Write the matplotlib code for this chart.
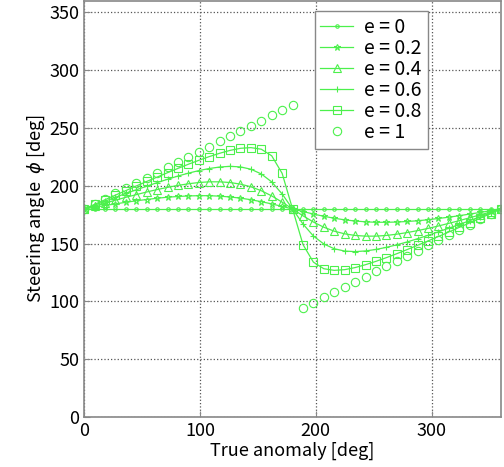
import numpy as np
import matplotlib.pyplot as plt

# true anomaly samples [deg], every 9 deg
nu = list(range(0, 361, 9))

# steering angle [deg], first half 0..180
# (second half mirrors about 180 deg)
half_02 = [180, 181.5, 183.0, 184.4, 185.8, 187.1, 188.2, 189.3, 190.2, 190.8, 191.3,
           191.5, 191.5, 191.1, 190.4, 189.4, 188.0, 186.3, 184.4, 182.2, 180]
half_04 = [180, 182.6, 185.1, 187.6, 190.1, 192.4, 194.7, 196.8, 198.7, 200.4, 201.8,
           202.9, 203.5, 203.5, 202.9, 201.5, 199.2, 195.8, 191.3, 185.9, 180]
half_06 = [180, 183.4, 186.7, 190.1, 193.4, 196.6, 199.7, 202.8, 205.7, 208.5, 211.0,
           213.2, 215.0, 216.3, 216.9, 216.4, 214.4, 210.3, 203.4, 193.0, 180]
half_08 = [180, 184.0, 188.0, 192.0, 195.9, 199.9, 203.8, 207.6, 211.4, 215.1, 218.7,
           222.1, 225.3, 228.2, 230.7, 232.5, 233.1, 231.7, 226.0, 210.8, 180]
e1_first = [180, 184.5, 189, 193.5, 198, 202.5, 207, 211.5, 216, 220.5, 225,
            229.5, 234, 238.5, 243, 247.5, 252, 256.5, 261, 265.5, 270]
e1_second = [94.5, 99, 103.5, 108, 112.5, 117, 121.5, 126, 130.5, 135,
             139.5, 144, 148.5, 153, 157.5, 162, 166.5, 171, 175.5, 180]


def mirror(h):
    return h + [360 - v for v in h[-2::-1]]


phi = {
    'e = 0': [180] * len(nu),
    'e = 0.2': mirror(half_02),
    'e = 0.4': mirror(half_04),
    'e = 0.6': mirror(half_06),
    'e = 0.8': mirror(half_08),
    'e = 1': e1_first + e1_second,
}
markers = ['.', '*', '^', '+', 's', 'o']

plt.rcParams['font.family'] = ['Noto Sans CJK JP', 'DejaVu Sans']

fig = plt.figure(figsize=(5.04, 4.67), dpi=100)
ax = fig.add_axes([0.167, 0.107, 0.827, 0.891])
green = '#4cf04c'

for (lab, vals), m in zip(phi.items(), markers):
    ls = 'none' if lab == 'e = 1' else '-'
    ax.plot(nu, vals, linestyle=ls, marker=m, color=green, lw=0.9,
            ms=6 if m in 'so^' else 5, mfc='none', mew=0.8, label=lab)

ax.set_xlim(0, 360)
ax.set_ylim(0, 360)
ax.set_xticks([0, 100, 200, 300])
ax.set_yticks(range(0, 351, 50))
ax.grid(True, linestyle=':', color='#555555', lw=0.9)
for s in ax.spines.values():
    s.set_color('#888888')
    s.set_linewidth(1.2)
ax.tick_params(labelsize=13, length=4, color='#888888', direction='in')
ax.set_xlabel('True anomaly [deg]', fontsize=13, labelpad=1)
ax.set_ylabel(r'Steering angle  $\phi$ [deg]', fontsize=13, labelpad=2)

leg = ax.legend(loc='upper left', bbox_to_anchor=(0.553, 0.976), fontsize=14,
                fancybox=False, framealpha=1, edgecolor='#888888', borderaxespad=0,
                handlelength=1.65, handletextpad=0.6, borderpad=0.3,
                labelspacing=0.0)

fig.savefig('out.png', dpi=100)
